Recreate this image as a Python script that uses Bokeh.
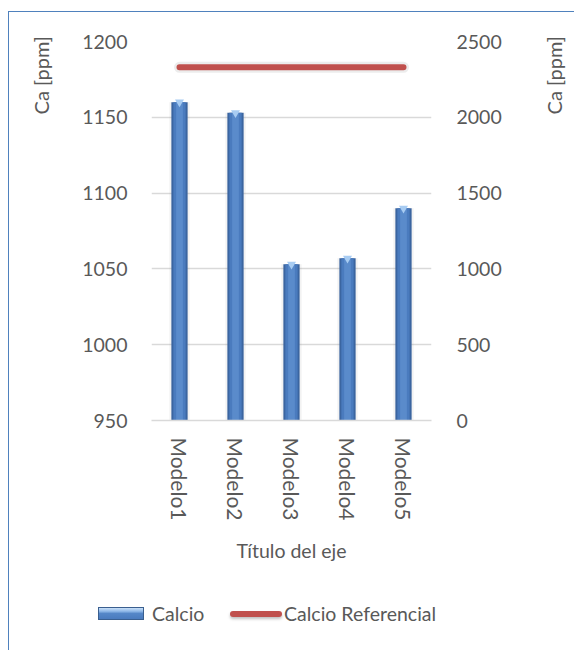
import math

from bokeh.embed import file_html
from bokeh.resources import INLINE
from bokeh.layouts import column, row
from bokeh.plotting import figure
from bokeh.models import (Range1d, FactorRange, LinearAxis, FixedTicker,
                          ColumnDataSource, Div)

# ---- data ----
models = ["Modelo1", "Modelo2", "Modelo3", "Modelo4", "Modelo5"]
calcio = [1160, 1153, 1053, 1057, 1090]          # left axis, Ca [ppm]
calcio_ref = [2330, 2330, 2330, 2330, 2330]      # right axis, Ca [ppm]
left_ticks = [950, 1000, 1050, 1100, 1150, 1200]
right_ticks = [0, 500, 1000, 1500, 2000, 2500]
series_names = ["Calcio", "Calcio Referencial"]
y_title = "Ca [ppm]"
x_title = "Título del eje"

FONT = "Lato"
TXT = "#595959"
GRID = "#D9D9D9"
BAR = "#4A7BBE"
BAR_EDGE = "#3B65A0"
REF = "#C0504D"

src = ColumnDataSource(dict(model=models, calcio=calcio, ref=calcio_ref))

p = figure(
    width=474, height=580,
    x_range=FactorRange(*models, range_padding=0),
    y_range=Range1d(left_ticks[0], left_ticks[-1]),
    output_backend="svg", toolbar_location=None,
    min_border_left=82, min_border_right=112,
    min_border_top=29, min_border_bottom=172,
)
p.outline_line_color = None
p.background_fill_color = "white"
p.border_fill_color = "white"

p.extra_y_ranges = {"ref": Range1d(right_ticks[0], right_ticks[-1])}

# grid
p.xgrid.grid_line_color = None
p.ygrid.grid_line_color = GRID
p.ygrid.grid_line_width = 1.5
p.ygrid.ticker = FixedTicker(ticks=left_ticks)

# bars: soft shadow, dark rim, then lighter core for a bevelled look
base = left_ticks[0]
p.vbar(x="model", top="calcio", bottom=base, width=0.36, source=src,
       fill_color="#808080", fill_alpha=0.10, line_color=None)
p.vbar(x="model", top="calcio", bottom=base, width=0.29, source=src,
       fill_color=BAR_EDGE, line_color=None)
p.vbar(x="model", top="calcio", bottom=base, width=0.22, source=src,
       fill_color=BAR, line_color=None)
p.vbar(x="model", top="calcio", bottom=base, width=0.12, source=src,
       fill_color="#5A8BCB", line_color=None)
p.scatter(x="model", y="calcio", source=src, marker="inverted_triangle",
          size=9, fill_color="#A8CCF2", line_color=None)

# reference line on the secondary axis
p.line(x="model", y="ref", source=src, y_range_name="ref",
       line_color="#7F7F7F", line_alpha=0.15, line_width=11,
       line_cap="round")
p.line(x="model", y="ref", source=src, y_range_name="ref",
       line_color=REF, line_width=6, line_cap="round")


def style_axis(ax, size="19.5px"):
    ax.axis_line_color = None
    ax.major_tick_line_color = None
    ax.minor_tick_line_color = None
    ax.major_label_text_font = FONT
    ax.major_label_text_font_size = size
    ax.major_label_text_color = TXT
    ax.axis_label_text_font = FONT
    ax.axis_label_text_font_size = "19.5px"
    ax.axis_label_text_font_style = "normal"
    ax.axis_label_text_color = TXT


yl = p.yaxis[0]
yl.ticker = FixedTicker(ticks=left_ticks)
yl.major_label_standoff = 18
style_axis(yl)

yr = LinearAxis(y_range_name="ref", ticker=FixedTicker(ticks=right_ticks))
yr.major_label_standoff = 19
style_axis(yr)
p.add_layout(yr, "right")

xa = p.xaxis[0]
xa.axis_label = x_title
xa.major_label_orientation = "vertical"
xa.major_label_standoff = 11
xa.axis_label_standoff = 16
style_axis(xa, "21px")
xa.axis_line_color = GRID
xa.axis_line_width = 1.5


# vertical axis titles, reading bottom-to-top and pinned near the top
def side_title(width, left):
    html = (
        f'<div style="position:relative;width:{width}px;height:580px;">'
        f'<span style="position:absolute;left:{left}px;top:24px;'
        'writing-mode:vertical-rl;transform:rotate(180deg);'
        f'line-height:20px;font-family:{FONT};font-size:20px;color:{TXT};'
        f'white-space:nowrap;">{y_title}</span></div>'
    )
    return Div(text=html, width=width, height=580, margin=0)


left_title = side_title(60, 22)
right_title = side_title(32, 1)

# legend strip under the chart
txt_css = (f"position:absolute;top:10px;line-height:24px;font-family:{FONT};"
           f"font-size:19.5px;color:{TXT};white-space:nowrap;")
legend_html = (
    '<div style="position:relative;width:566px;height:59px;">'
    '<span style="position:absolute;left:89px;top:15px;width:46px;height:13px;'
    'border:1px solid #3A5F8F;background:linear-gradient(to bottom,#C9E0F8 0%,'
    '#8FB8E8 30%,#5587C8 50%,#4A7BBE 100%);"></span>'
    f'<span style="{txt_css}left:143px;">{series_names[0]}</span>'
    '<span style="position:absolute;left:221px;top:19px;width:52px;height:6px;'
    f'border-radius:3px;background:{REF};box-shadow:0 2px 3px rgba(0,0,0,0.25);"></span>'
    f'<span style="{txt_css}left:275px;">{series_names[1]}</span>'
    '</div>'
)
legend_div = Div(text=legend_html, width=566, height=59, margin=0)

layout = column(row(left_title, p, right_title, spacing=0), legend_div,
                spacing=0)
layout.margin = (11, 0, 0, 8)
layout.styles = {"border-left": "1.5px solid #4F81BD",
                 "border-top": "1.5px solid #4F81BD"}

open("out.html", "w").write(file_html(layout, INLINE))
